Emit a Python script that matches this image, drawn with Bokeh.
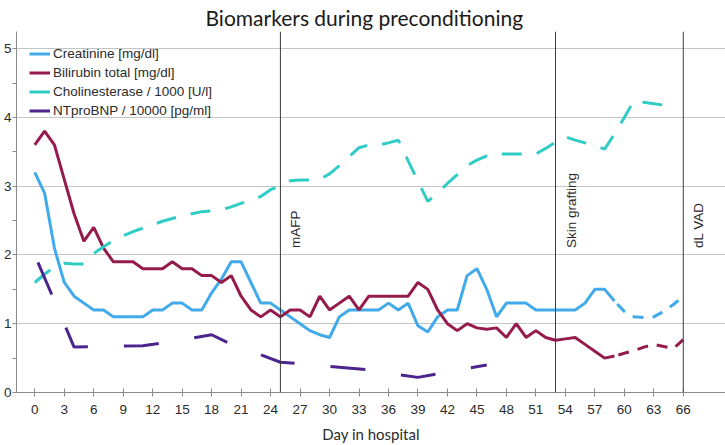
import math

from bokeh.core.properties import value
from bokeh.embed import file_html
from bokeh.models import FixedTicker, Legend, LegendItem, Range1d, Span
from bokeh.plotting import figure
from bokeh.resources import INLINE

# Daily values, day 0 .. 66
days = list(range(0, 67))
creatinine = [
    3.2, 2.9, 2.1, 1.6, 1.4, 1.3, 1.2, 1.2, 1.1, 1.1,
    1.1, 1.1, 1.2, 1.2, 1.3, 1.3, 1.2, 1.2, 1.45, 1.65,
    1.9, 1.9, 1.6, 1.3, 1.3, 1.2, 1.1, 1.0, 0.9, 0.84,
    0.8, 1.1, 1.2, 1.2, 1.2, 1.2, 1.3, 1.2, 1.3, 0.97,
    0.88, 1.1, 1.2, 1.2, 1.7, 1.8, 1.5, 1.1, 1.3, 1.3,
    1.3, 1.2, 1.2, 1.2, 1.2, 1.2, 1.3, 1.5, 1.5, 1.33,
    1.18, 1.1, 1.09, 1.1, 1.18, 1.28, 1.4,
]
bilirubin = [
    3.6, 3.8, 3.6, 3.1, 2.6, 2.2, 2.4, 2.1, 1.9, 1.9,
    1.9, 1.8, 1.8, 1.8, 1.9, 1.8, 1.8, 1.7, 1.7, 1.6,
    1.7, 1.4, 1.2, 1.1, 1.2, 1.1, 1.2, 1.2, 1.1, 1.4,
    1.2, 1.3, 1.4, 1.2, 1.4, 1.4, 1.4, 1.4, 1.4, 1.6,
    1.5, 1.2, 1.0, 0.9, 1.0, 0.94, 0.92, 0.94, 0.8, 1.0,
    0.8, 0.9, 0.8, 0.76, 0.78, 0.8, 0.7, 0.6, 0.5, 0.53,
    0.57, 0.61, 0.66, 0.7, 0.67, 0.64, 0.77,
]

# Cholinesterase / 1000, day 0 .. 65
che_days = list(range(0, 66))
cholinesterase = [
    1.6, 1.72, 1.83, 1.88, 1.87, 1.87, 2.02, 2.12, 2.21, 2.28,
    2.34, 2.39, 2.44, 2.49, 2.53, 2.57, 2.6, 2.63, 2.64, 2.66,
    2.7, 2.75, 2.8, 2.85, 2.95, 3.01, 3.08, 3.09, 3.09, 3.1,
    3.18, 3.3, 3.43, 3.56, 3.6, 3.6, 3.63, 3.67, 3.37, 3.07,
    2.78, 2.9, 3.04, 3.17, 3.3, 3.38, 3.44, 3.47, 3.47, 3.47,
    3.47, 3.47, 3.55, 3.64, 3.72, 3.67, 3.63, 3.59, 3.54, 3.76,
    4.0, 4.25, 4.22, 4.2, 4.18, 4.15,
]

# NTproBNP / 10000, measured days only
bnp_days = [0, 3, 4, 11, 13, 18, 20, 23, 25, 27, 30, 34, 37, 39, 41, 44, 46]
ntprobnp = [2.0, 1.0, 0.66, 0.68, 0.72, 0.84, 0.7, 0.55, 0.44, 0.42,
            0.38, 0.33, 0.26, 0.22, 0.27, 0.35, 0.40]

series_names = [
    "Creatinine [mg/dl]",
    "Bilirubin total [mg/dl]",
    "Cholinesterase / 1000 [U/l]",
    "NTproBNP / 10000 [pg/ml]",
]
event_days = [25, 53, 66]
event_labels = ["mAFP", "Skin grafting", "dL VAD"]
x_ticks = list(range(0, 67, 3))
y_ticks = [0, 1, 2, 3, 4, 5]

# last day of the daily series drawn as a solid line
solid_until = 59

BLUE = "#41aaea"
RED = "#951b4c"
TEAL = "#30cdc6"
PURPLE = "#4b248e"
TICK_FONT = "Liberation Sans"
HEAD_FONT = "Lato"
TEXT_COLOR = "#2b2b2b"
LW = 3

p = figure(
    frame_width=709, frame_height=361,
    x_range=Range1d(-1.86, 70.3), y_range=Range1d(0, 5.25),
    output_backend="svg", toolbar_location=None,
    min_border_left=0, min_border_right=0, min_border_top=31, min_border_bottom=0,
    title="Biomarkers during preconditioning",
)
p.outline_line_color = None
p.background_fill_color = "white"
p.border_fill_color = "white"

p.title.align = "left"
p.title.offset = 189
p.title.vertical_align = "top"
p.title.standoff = 0
p.title.text_font = HEAD_FONT
p.title.text_font_size = "21px"
p.title.text_font_style = "normal"
p.title.text_color = "#1a1a1a"

# grid
p.xgrid.visible = False
p.ygrid.ticker = FixedTicker(ticks=y_ticks[1:])
p.ygrid.grid_line_color = "#c4c4c4"
p.ygrid.grid_line_width = 1

# x axis
p.xaxis.ticker = FixedTicker(ticks=x_ticks)
p.xaxis.axis_label = "Day in hospital"
p.xaxis.axis_label_text_font = HEAD_FONT
p.xaxis.axis_label_text_font_size = "15px"
p.xaxis.axis_label_text_font_style = "normal"
p.xaxis.axis_label_text_color = TEXT_COLOR
p.xaxis.axis_label_standoff = 8
p.xaxis.major_label_text_font = TICK_FONT
p.xaxis.major_label_text_font_size = "13.5px"
p.xaxis.major_label_text_color = TEXT_COLOR
p.xaxis.major_label_standoff = 8
p.xaxis.major_tick_in = 4
p.xaxis.major_tick_out = 4
p.xaxis.minor_tick_line_color = None
p.xaxis.axis_line_color = "#8a8a8a"
p.xaxis.major_tick_line_color = "#8a8a8a"

# y axis
p.yaxis.ticker = FixedTicker(ticks=y_ticks, minor_ticks=[0.5, 1.5, 2.5, 3.5, 4.5])
p.yaxis.major_label_text_font = TICK_FONT
p.yaxis.major_label_text_font_size = "13.5px"
p.yaxis.major_label_text_color = TEXT_COLOR
p.yaxis.major_label_standoff = 1
p.yaxis.major_tick_in = 0
p.yaxis.major_tick_out = 4
p.yaxis.minor_tick_in = 0
p.yaxis.minor_tick_out = 4
p.yaxis.axis_line_color = "#8a8a8a"
p.yaxis.major_tick_line_color = "#8a8a8a"
p.yaxis.minor_tick_line_color = "#8a8a8a"

# event markers
for d in event_days:
    p.add_layout(Span(location=d, dimension="height", line_color="#3c3c3c", line_width=1))
p.text(
    x=event_days, y=[2.1] * len(event_days), text=event_labels,
    angle=math.pi / 2, text_align="left", text_baseline="top", x_offset=8,
    text_font=value(TICK_FONT), text_font_size="13.5px", text_color=TEXT_COLOR,
)

# series
s = solid_until + 1
p.line(days[:s], creatinine[:s], line_color=BLUE, line_width=LW)
p.line(days[solid_until:], creatinine[solid_until:], line_color=BLUE, line_width=LW,
       line_dash="11 9", line_dash_offset=16)
p.line(days[:s], bilirubin[:s], line_color=RED, line_width=LW)
p.line(days[solid_until:], bilirubin[solid_until:], line_color=RED, line_width=LW,
       line_dash="11 9", line_dash_offset=16)
p.line(che_days, cholinesterase, line_color=TEAL, line_width=LW, line_dash="20 15")
p.line(bnp_days, ntprobnp, line_color=PURPLE, line_width=LW,
       line_dash="35 36", line_dash_offset=63)

# legend swatches are plain solid lines (renderers with a single undefined point)
colors = [BLUE, RED, TEAL, PURPLE]
items = []
for name, c in zip(series_names, colors):
    r = p.line(x=[float("nan")], y=[float("nan")], line_color=c, line_width=LW)
    items.append(LegendItem(label=name, renderers=[r]))
legend = Legend(items=items, location="top_left")
legend.margin = 13
legend.padding = 0
legend.spacing = 0
legend.label_height = 19
legend.glyph_height = 19
legend.glyph_width = 21
legend.label_standoff = 3
legend.label_text_font = TICK_FONT
legend.label_text_font_size = "13.5px"
legend.label_text_color = TEXT_COLOR
legend.border_line_color = None
legend.background_fill_alpha = 0
p.add_layout(legend)

open("out.html", "w").write(file_html(p, INLINE))
